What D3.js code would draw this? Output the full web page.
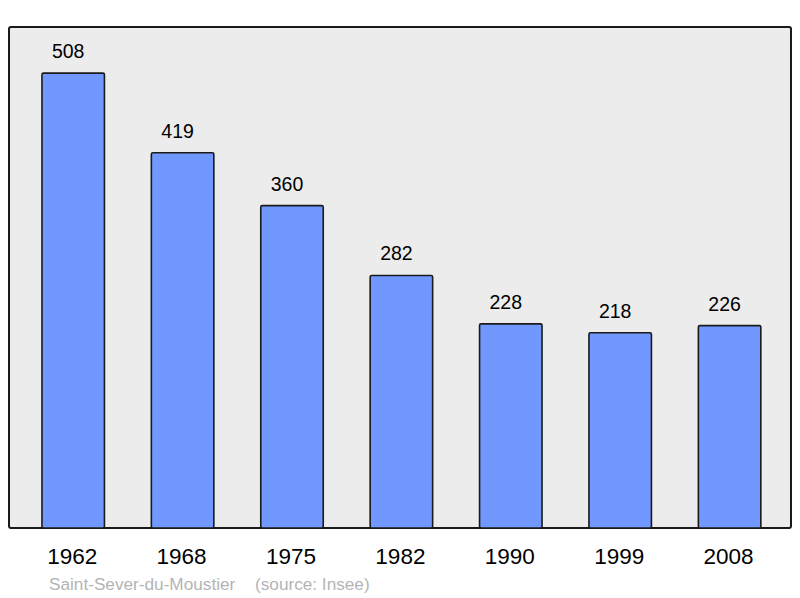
<!DOCTYPE html>
<html>
<head>
<meta charset="utf-8">
<script src="https://cdn.jsdelivr.net/npm/d3@7"></script>
<style>
  body { margin: 0; background: #fff; }
  svg { display: block; font-family: "Liberation Sans", Arial, sans-serif; }
</style>
</head>
<body>
<div id="chart"></div>
<script>
// Population data
const years = ["1962", "1968", "1975", "1982", "1990", "1999", "2008"];
const population = [508, 419, 360, 282, 228, 218, 226];
const commune = "Saint-Sever-du-Moustier";
const source = "(source: Insee)";

const width = 800;
const height = 598;
// plot frame
const frame = { left: 9, top: 27, right: 791, bottom: 528 };

const svg = d3.select("#chart")
  .append("svg")
  .attr("width", width)
  .attr("height", height);

svg.append("rect")
  .attr("x", frame.left)
  .attr("y", frame.top)
  .attr("width", frame.right - frame.left)
  .attr("height", frame.bottom - frame.top)
  .attr("rx", 2)
  .attr("fill", "#ececec")
  .attr("stroke", "#1a1a1a")
  .attr("stroke-width", 2);

const xScale = d3.scaleBand()
  .domain(years)
  .range([18.5, 784.3])
  .paddingInner(0.429)
  .paddingOuter(0.2145);

const yScale = d3.scaleLinear()
  .domain([0, 559.5])
  .range([frame.bottom, frame.top]);

const data = years.map((y, i) => ({ year: y, value: population[i] }));

// bars
svg.append("g")
  .selectAll("rect")
  .data(data)
  .join("rect")
  .attr("x", d => xScale(d.year))
  .attr("y", d => yScale(d.value))
  .attr("width", xScale.bandwidth())
  .attr("height", d => frame.bottom - yScale(d.value))
  .attr("rx", 1.5)
  .attr("fill", "#7098ff")
  .attr("stroke", "#1a1a1a")
  .attr("stroke-width", 1.6);

// value labels (sit a little left of the bar centre)
svg.append("g")
  .selectAll("text")
  .data(data)
  .join("text")
  .attr("x", d => xScale(d.year) + xScale.bandwidth() / 2 - 5)
  .attr("y", d => yScale(d.value) - 15)
  .attr("text-anchor", "middle")
  .attr("font-size", 19.5)
  .attr("fill", "#000")
  .text(d => d.value);

// year labels
svg.append("g")
  .selectAll("text")
  .data(years)
  .join("text")
  .attr("x", d => xScale(d) + xScale.bandwidth() / 2 - 1)
  .attr("y", 564)
  .attr("text-anchor", "middle")
  .attr("font-size", 22.5)
  .attr("fill", "#000")
  .text(d => d);

// footer
svg.append("text")
  .attr("x", 49)
  .attr("y", 590)
  .attr("font-size", 17.2)
  .attr("fill", "#b4b4b4")
  .text(commune);

svg.append("text")
  .attr("x", 255)
  .attr("y", 590)
  .attr("font-size", 17.2)
  .attr("fill", "#b4b4b4")
  .text(source);
</script>
</body>
</html>
